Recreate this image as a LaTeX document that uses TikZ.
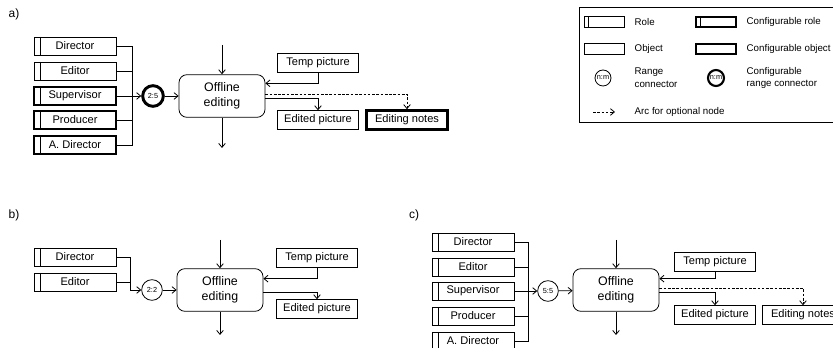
\documentclass[tikz,border=0pt]{standalone}
\usepackage{fontspec}
\setmainfont{Liberation Sans}
\usetikzlibrary{arrows.meta}

\begin{document}
\begin{tikzpicture}[x=0.75pt, y=-0.75pt,
    thinline/.style={line width=0.6pt},
    boxtext/.style={font=\fontsize{8.3}{9.5}\selectfont},
    role/.style={draw, thinline, minimum width=61.5pt, minimum height=13.5pt,
        inner sep=0pt, boxtext,
        path picture={\draw[thinline]
            ([xshift=#1]path picture bounding box.north west) --
            ([xshift=#1]path picture bounding box.south west);}},
    role/.default=5pt,
    confrole/.style={role, line width=2.2pt},
    object/.style={draw, thinline, minimum width=61pt, minimum height=14pt,
        inner sep=0pt, boxtext},
    confobject/.style={object, line width=2.2pt},
    connector/.style={circle, draw, thinline, minimum size=15.5pt, inner sep=0pt,
        font=\fontsize{5.5}{6}\selectfont},
    confconnector/.style={connector, line width=2.2pt},
    process/.style={draw, thinline, rounded corners=6pt, minimum width=64.5pt,
        minimum height=32pt, align=center,
        font=\fontsize{9.3}{11}\selectfont},
    panel/.style={font=\fontsize{9}{10}\selectfont},
    legtext/.style={anchor=west, align=left, font=\fontsize{7.3}{9.5}\selectfont},
    link/.style={thinline},
    arrow/.style={thinline, -{Straight Barb[length=3pt,width=5pt]}},
    optional/.style={arrow, dash pattern=on 2pt off 1.2pt}
]
    \useasboundingbox (0,0) rectangle (833,348);

    \node[panel] (alabel) at (14,14) {a)};
    \node[role] (adir) at (75,46) {Director};
    \node[role] (aedi) at (75,71) {Editor};
    \node[confrole] (asup) at (75,96) {Supervisor};
    \node[confrole] (apro) at (75,120) {Producer};
    \node[confrole] (aadir) at (75,145) {A. Director};
    \coordinate (abus) at (132,96);
    \node[confconnector] (aconn) at (153,96) {2:5};
    \node[process] (aoff) at (222,96) {Offline\\editing};
    \coordinate (atop) at (222,45);
    \coordinate (abot) at (222,148);
    \node[object] (atemp) at (318,63) {Temp picture};
    \node[object] (aedit) at (318,120) {Edited picture};
    \node[confobject] (anotes) at (407,120) {Editing notes};
    \draw[link] (adir) -| (abus);
    \draw[link] (aedi) -| (abus);
    \draw[link] (asup) -| (abus);
    \draw[link] (apro) -| (abus);
    \draw[link] (aadir) -| (abus);
    \draw[arrow] (abus) -- (aconn);
    \draw[arrow] (aconn) -- (aoff);
    \draw[arrow] (atop) -- (aoff);
    \draw[arrow] (aoff) -- (abot);
    \draw[arrow] (atemp.south) |- ([yshift=9.5pt]aoff.east);
    \draw[arrow] ([yshift=-1.5pt]aoff.east) -| (aedit.north);
    \draw[optional] ([yshift=1.5pt]aoff.east) -| (anotes.north);

    \draw[thinline] (579,7) rectangle (850,122);
    \node[role=3pt, minimum width=30pt, minimum height=8pt] (krole) at (604,22) {};
    \node[legtext] (kroletext) at (630,22) {Role};
    \node[confrole, role=3pt, line width=1.5pt, minimum width=30pt, minimum height=8pt] (kcrole) at (716,22) {};
    \node[legtext] (kcroletext) at (742,22) {Configurable role};
    \node[object, minimum width=30pt, minimum height=8pt] (kobj) at (604,49) {};
    \node[legtext] (kobjtext) at (630,49) {Object};
    \node[confobject, line width=1.5pt, minimum width=30pt, minimum height=8pt] (kcobj) at (716,49) {};
    \node[legtext] (kcobjtext) at (742,49) {Configurable object};
    \node[connector, minimum size=12pt] (kconn) at (603,78) {n:m};
    \node[legtext] (kconntext) at (630,78) {Range\\connector};
    \node[confconnector, line width=1.6pt, minimum size=12pt] (kcconn) at (716,78) {n:m};
    \node[legtext] (kcconntext) at (742,78) {Configurable\\range connector};
    \coordinate (kopta) at (593,112);
    \coordinate (koptb) at (615,112);
    \draw[optional] (kopta) -- (koptb);
    \node[legtext] (kopttext) at (630,112) {Arc for optional node};

    \node[panel] (blabel) at (14,215) {b)};
    \node[role] (bdir) at (75,257) {Director};
    \node[role] (bedi) at (75,282) {Editor};
    \coordinate (bbus) at (130,290);
    \node[connector] (bconn) at (152,290) {2:2};
    \node[process] (boff) at (220,290) {Offline\\editing};
    \coordinate (btop) at (220,240);
    \coordinate (bbot) at (220,335);
    \node[object] (btemp) at (317,258) {Temp picture};
    \node[object] (bedit) at (317,309) {Edited picture};
    \draw[link] (bdir) -| (bbus);
    \draw[link] (bedi) -| (bbus);
    \draw[arrow] (bbus) -- (bconn);
    \draw[arrow] (bconn) -- (boff);
    \draw[arrow] (btop) -- (boff);
    \draw[arrow] (boff) -- (bbot);
    \draw[arrow] (btemp.south) |- ([yshift=8.5pt]boff.east);
    \draw[arrow] ([yshift=-1.5pt]boff.east) -| (bedit.north);

    \node[panel] (clabel) at (414,215) {c)};
    \node[role] (cdir) at (473,242) {Director};
    \node[role] (cedi) at (473,267) {Editor};
    \node[role] (csup) at (473,291) {Supervisor};
    \node[role] (cpro) at (473,316) {Producer};
    \node[role] (cadir) at (473,341) {A. Director};
    \coordinate (cbus) at (528,291);
    \node[connector] (cconn) at (548,291) {5:5};
    \node[process] (coff) at (616,290) {Offline\\editing};
    \coordinate (ctop) at (616,240);
    \coordinate (cbot) at (616,335);
    \node[object] (ctemp) at (715,262) {Temp picture};
    \node[object] (cedit) at (715,315) {Edited picture};
    \node[object] (cnotes) at (803,315) {Editing notes};
    \draw[link] (cdir) -| (cbus);
    \draw[link] (cedi) -| (cbus);
    \draw[link] (csup) -| (cbus);
    \draw[link] (cpro) -| (cbus);
    \draw[link] (cadir) -| (cbus);
    \draw[arrow] (cbus) -- (cconn);
    \draw[arrow] (cconn) -- (coff);
    \draw[arrow] (ctop) -- (coff);
    \draw[arrow] (coff) -- (cbot);
    \draw[arrow] (ctemp.south) |- ([yshift=8.5pt]coff.east);
    \draw[arrow] ([yshift=-1.5pt]coff.east) -| (cedit.north);
    \draw[optional] ([yshift=1.5pt]coff.east) -| (cnotes.north);
\end{tikzpicture}
\end{document}
